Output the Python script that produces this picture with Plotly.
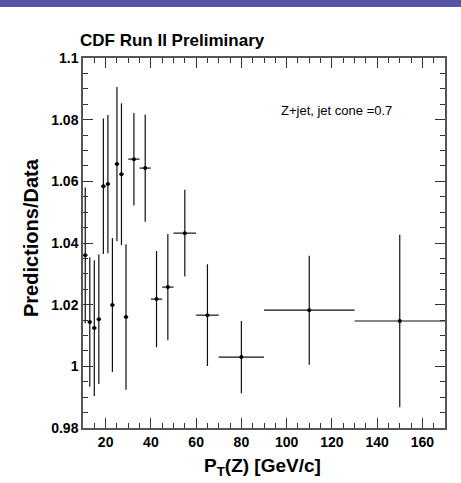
import plotly.graph_objects as go

# Data
pt_center = [11, 13, 15, 17, 19, 21, 23, 25, 27, 29, 32.5, 37.5, 42.5, 47.5, 55, 65, 80, 110, 150]
pt_halfwidth = [1, 1, 1, 1, 1, 1, 1, 1, 1, 1, 2.5, 2.5, 2.5, 2.5, 5, 5, 10, 20, 20]
ratio = [1.036, 1.0144, 1.0124, 1.0153, 1.0584, 1.0591, 1.0199, 1.0656, 1.0623, 1.016,
         1.0672, 1.0643, 1.0218, 1.0257, 1.0432, 1.0166, 1.003, 1.0182, 1.0147]
ratio_err = [0.022, 0.021, 0.022, 0.021, 0.022, 0.0224, 0.0217, 0.025, 0.023, 0.0236,
             0.015, 0.0174, 0.0156, 0.0172, 0.0141, 0.0165, 0.0117, 0.0177, 0.028]

x_ticks = [20, 40, 60, 80, 100, 120, 140, 160]
y_ticks = [0.98, 1.0, 1.02, 1.04, 1.06, 1.08, 1.1]
y_ticktext = ["0.98", "1", "1.02", "1.04", "1.06", "1.08", "1.1"]

FONT = "Liberation Sans, Arial, Helvetica, sans-serif"

# plot area in pixels
L, R, T, B = 83, 445, 58, 428
W, H = 461, 483
pw, ph = R - L, B - T

fig = go.Figure()
fig.add_trace(go.Scatter(
    x=pt_center, y=ratio, mode="markers",
    marker=dict(symbol="circle", size=4, color="black"),
    error_y=dict(type="data", array=ratio_err, width=0, thickness=1.2, color="#111"),
    error_x=dict(type="data", array=pt_halfwidth, width=0, thickness=1.2, color="#111"),
    showlegend=False,
))

axis_common = dict(
    showline=True, linecolor="#555", linewidth=1.5, mirror="allticks",
    ticks="inside", ticklen=10, tickwidth=1, tickcolor="#333",
    showgrid=False, zeroline=False, automargin=False,
    tickfont=dict(family=FONT, size=14, color="black", weight="bold"),
)

fig.update_xaxes(
    range=[10, 170], tickvals=x_ticks, ticktext=[str(v) for v in x_ticks],
    minor=dict(dtick=5, tick0=0, ticklen=5, ticks="inside", tickcolor="#333"),
    **axis_common,
)
fig.update_yaxes(
    range=[0.98, 1.1], tickvals=y_ticks, ticktext=y_ticktext,
    minor=dict(dtick=0.005, tick0=0.98, ticklen=5, ticks="inside", tickcolor="#333"),
    **axis_common,
)

def px_x(x):
    return (x - L) / pw

def px_y(y):
    return (B - y) / ph

fig.add_annotation(
    text="CDF Run II Preliminary", xref="paper", yref="paper",
    x=px_x(78), y=px_y(40), xanchor="left", yanchor="middle",
    showarrow=False, font=dict(family=FONT, size=17, color="black", weight="bold"),
)
fig.add_annotation(
    text="Z+jet, jet cone =0.7", xref="paper", yref="paper",
    x=px_x(279), y=px_y(110), xanchor="left", yanchor="middle",
    showarrow=False, font=dict(family=FONT, size=13, color="black"),
)
fig.add_annotation(
    text="P<sub>T</sub>(Z) [GeV/c]", xref="paper", yref="paper",
    x=px_x(262), y=px_y(467), xanchor="center", yanchor="middle",
    showarrow=False, font=dict(family=FONT, size=19, color="black", weight="bold"),
)
fig.add_annotation(
    text="Predictions/Data", xref="paper", yref="paper", textangle=-90,
    x=px_x(31), y=px_y(238), xanchor="center", yanchor="middle",
    showarrow=False, font=dict(family=FONT, size=20, color="black", weight="bold"),
)

# slide header banner
fig.add_shape(type="rect", xref="paper", yref="paper",
              x0=-0.5, x1=1.5, y0=px_y(7), y1=px_y(-5),
              fillcolor="#5656a8", line=dict(width=0), layer="above")

fig.update_layout(
    width=W, height=H,
    margin=dict(l=L, r=W - R, t=T, b=H - B),
    paper_bgcolor="white", plot_bgcolor="white",
)

fig.write_html("out.html", config={"displayModeBar": False},
               post_script="document.body.style.margin='0px';")
